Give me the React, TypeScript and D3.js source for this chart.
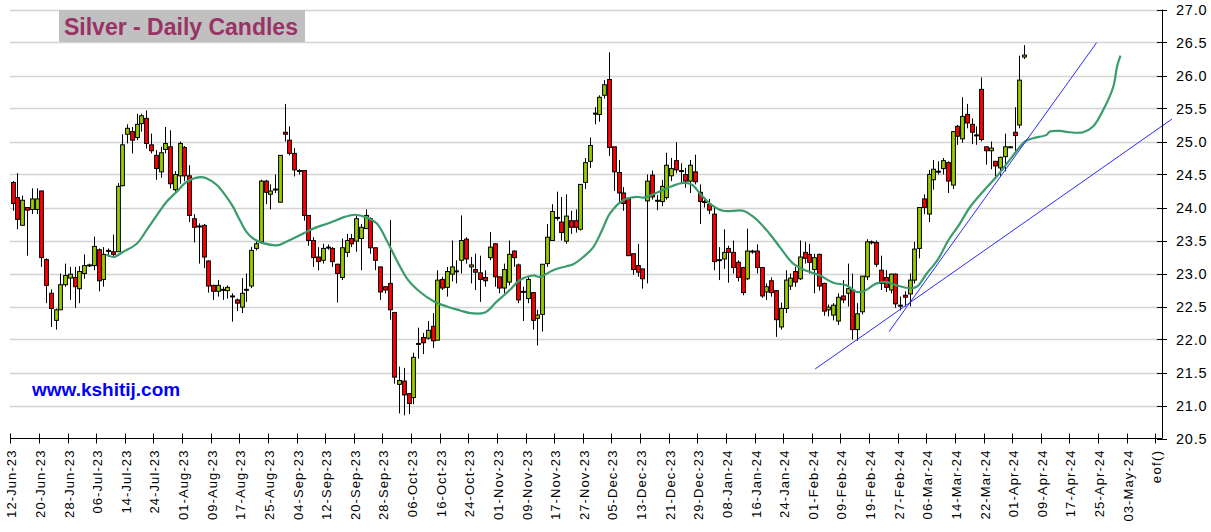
import React from "react";
import * as d3 from "d3";

// OHLC per trading day, index 0 = 12-Jun-23
const candles: [number, number, number, number][] = [
  [24.38, 24.40, 23.95, 24.06], [24.15, 24.52, 23.67, 23.82], [23.73, 24.18, 23.73, 24.11], [24.00, 24.00, 23.27, 23.96],
  [23.97, 24.29, 23.90, 24.13], [23.97, 24.29, 23.90, 24.13], [24.25, 24.26, 23.10, 23.24], [23.21, 23.23, 22.55, 22.82],
  [22.70, 22.76, 22.19, 22.47], [22.29, 22.47, 22.15, 22.45], [22.45, 23.00, 22.45, 22.83], [22.83, 23.15, 22.80, 22.97],
  [22.93, 23.10, 22.60, 22.99], [22.94, 23.10, 22.48, 22.80], [22.77, 23.11, 22.55, 23.03], [23.00, 23.29, 22.92, 23.12],
  [23.12, 23.15, 23.10, 23.13], [23.12, 23.56, 23.05, 23.41], [23.36, 23.38, 22.73, 22.89], [22.91, 23.40, 22.80, 23.29],
  [23.35, 23.38, 23.25, 23.34], [23.33, 23.59, 23.25, 23.29], [23.33, 24.37, 23.33, 24.32], [24.33, 25.11, 24.32, 24.95],
  [25.11, 25.26, 24.97, 25.20], [25.15, 25.22, 24.82, 25.02], [25.06, 25.42, 25.02, 25.26], [25.27, 25.42, 25.15, 25.39],
  [25.35, 25.47, 24.89, 24.97], [24.95, 25.12, 24.82, 24.86], [24.79, 24.87, 24.42, 24.59], [24.54, 24.92, 24.45, 24.83],
  [24.88, 25.22, 24.82, 24.97], [24.92, 25.17, 24.29, 24.36], [24.27, 24.55, 24.24, 24.50], [24.48, 25.00, 24.36, 24.97],
  [24.91, 24.93, 24.40, 24.48], [24.48, 24.64, 23.78, 23.88], [23.83, 23.90, 23.47, 23.70], [23.72, 23.76, 23.15, 23.71],
  [23.73, 23.75, 23.08, 23.25], [23.19, 23.20, 22.71, 22.81], [22.82, 22.83, 22.60, 22.73], [22.73, 22.90, 22.65, 22.82],
  [22.75, 22.80, 22.60, 22.76], [22.74, 22.82, 22.62, 22.79], [22.66, 22.70, 22.27, 22.66], [22.60, 22.62, 22.43, 22.55],
  [22.49, 22.93, 22.40, 22.70], [22.75, 23.00, 22.57, 22.76], [22.81, 23.40, 22.78, 23.35], [23.38, 23.50, 23.35, 23.45],
  [23.48, 24.42, 23.45, 24.40], [24.40, 24.42, 24.05, 24.23], [24.20, 24.35, 23.97, 24.25], [24.27, 24.50, 24.22, 24.28],
  [24.08, 24.79, 24.08, 24.79], [25.14, 25.57, 25.00, 25.11], [25.02, 25.23, 24.79, 24.82], [24.82, 24.90, 24.47, 24.57],
  [24.56, 24.58, 24.50, 24.56], [24.56, 24.56, 23.80, 23.88], [23.88, 23.88, 23.42, 23.50], [23.50, 23.55, 23.10, 23.24],
  [23.25, 23.40, 23.05, 23.18], [23.20, 23.45, 23.15, 23.38], [23.40, 23.44, 23.36, 23.40], [23.38, 23.40, 23.10, 23.18],
  [23.14, 23.15, 22.56, 23.00], [22.94, 23.53, 22.90, 23.39], [23.32, 23.60, 23.25, 23.50], [23.53, 23.60, 23.40, 23.45],
  [23.49, 23.87, 23.33, 23.83], [23.53, 23.75, 23.05, 23.70], [23.68, 23.97, 23.68, 23.88], [23.83, 23.85, 23.30, 23.39],
  [23.39, 23.39, 23.05, 23.20], [23.10, 23.10, 22.60, 22.72], [22.80, 22.80, 22.70, 22.75], [22.85, 23.81, 22.30, 22.45],
  [22.41, 22.41, 21.33, 21.43], [21.32, 21.59, 20.88, 21.38], [21.37, 21.57, 20.85, 21.16], [21.18, 21.18, 20.87, 21.03],
  [21.12, 21.80, 21.02, 21.73], [21.93, 22.18, 21.71, 21.94], [22.03, 22.10, 21.78, 21.95], [22.02, 22.28, 22.00, 22.14],
  [22.20, 22.40, 21.87, 21.98], [21.99, 23.05, 21.99, 22.90], [22.91, 22.95, 22.75, 22.78], [22.79, 23.10, 22.65, 23.03],
  [22.99, 23.50, 22.88, 23.10], [23.03, 23.20, 22.85, 23.04], [23.20, 23.88, 23.00, 23.50], [23.52, 23.55, 23.15, 23.22],
  [23.10, 23.25, 22.85, 23.13], [23.06, 23.30, 22.75, 23.02], [23.01, 23.27, 22.57, 22.91], [22.94, 23.05, 22.80, 22.89],
  [23.24, 23.63, 23.20, 23.40], [23.45, 23.46, 22.80, 22.95], [22.95, 22.95, 22.70, 22.78], [22.78, 23.15, 22.70, 23.06],
  [22.87, 23.50, 22.82, 23.29], [23.34, 23.35, 23.10, 23.24], [23.13, 23.15, 22.55, 22.60], [22.73, 22.80, 22.28, 22.72],
  [22.62, 22.95, 22.55, 22.91], [22.71, 22.72, 22.15, 22.29], [22.32, 22.45, 21.91, 22.37], [22.38, 23.14, 22.12, 23.14],
  [23.15, 23.75, 23.10, 23.55], [23.50, 24.05, 23.50, 23.94], [23.84, 24.24, 23.80, 23.85], [23.78, 24.16, 23.50, 23.62],
  [23.49, 24.20, 23.45, 23.87], [23.80, 23.95, 23.60, 23.70], [23.80, 23.97, 23.62, 23.70], [23.67, 24.35, 23.65, 24.35],
  [24.38, 24.75, 24.28, 24.68], [24.70, 25.06, 24.60, 24.94], [25.43, 25.52, 25.26, 25.42], [25.41, 25.70, 25.30, 25.67],
  [25.70, 25.93, 25.65, 25.86], [25.94, 26.35, 24.78, 24.91], [24.92, 24.92, 24.25, 24.54], [24.53, 24.72, 24.06, 24.22],
  [24.22, 24.31, 23.95, 24.06], [24.14, 24.14, 23.27, 23.27], [23.30, 23.30, 22.98, 23.06], [23.12, 23.45, 22.95, 23.02],
  [23.07, 23.07, 22.77, 22.92], [24.10, 24.50, 22.85, 24.40], [24.49, 24.56, 24.12, 24.16], [24.11, 24.19, 23.96, 24.10],
  [24.09, 24.42, 24.02, 24.32], [24.15, 24.83, 24.12, 24.64], [24.48, 24.75, 24.40, 24.59], [24.71, 24.99, 24.52, 24.57],
  [24.56, 24.67, 24.37, 24.55], [24.50, 24.60, 24.30, 24.40], [24.40, 24.72, 24.22, 24.64], [24.54, 24.80, 24.35, 24.39],
  [24.23, 24.35, 23.75, 24.09], [24.09, 24.15, 24.00, 24.08], [24.05, 24.13, 23.90, 23.96], [23.90, 24.00, 23.05, 23.18],
  [23.20, 23.40, 22.90, 23.21], [23.22, 23.67, 23.07, 23.32], [23.38, 23.42, 22.86, 23.32], [23.32, 23.50, 23.00, 23.09],
  [23.17, 23.20, 22.88, 22.94], [23.09, 23.10, 22.67, 22.71], [22.92, 23.68, 22.90, 23.34], [23.33, 23.36, 23.30, 23.34],
  [23.34, 23.44, 23.00, 23.09], [23.09, 23.10, 22.63, 22.66], [22.72, 22.85, 22.60, 22.80], [22.89, 22.94, 22.65, 22.71],
  [22.74, 22.75, 22.04, 22.30], [22.19, 22.56, 22.15, 22.47], [22.47, 23.05, 22.40, 22.90], [22.81, 23.00, 22.75, 22.93],
  [23.03, 23.10, 22.80, 22.87], [22.92, 23.50, 22.90, 23.25], [23.32, 23.48, 23.15, 23.23], [23.29, 23.45, 23.00, 23.17],
  [23.06, 23.30, 22.70, 23.24], [23.29, 23.30, 22.74, 22.81], [22.85, 22.86, 22.36, 22.43], [22.45, 22.53, 22.35, 22.49],
  [22.37, 22.55, 22.29, 22.52], [22.28, 22.70, 22.22, 22.64], [22.66, 22.90, 22.55, 22.60], [22.70, 23.15, 22.50, 22.77],
  [22.75, 23.00, 22.00, 22.15], [22.15, 22.55, 21.98, 22.39], [22.42, 22.96, 22.38, 22.96], [22.95, 23.52, 22.90, 23.48],
  [23.48, 23.50, 23.44, 23.47], [23.47, 23.50, 23.10, 23.14], [23.05, 23.27, 22.75, 22.85], [22.94, 23.05, 22.72, 22.79],
  [22.75, 23.00, 22.70, 22.99], [22.99, 23.00, 22.48, 22.54], [22.52, 22.65, 22.44, 22.52], [22.67, 22.73, 22.50, 22.64],
  [22.69, 23.00, 22.50, 22.90], [22.90, 23.48, 22.85, 23.37], [23.38, 24.00, 23.23, 24.00], [24.13, 24.20, 23.90, 24.00],
  [23.90, 24.57, 23.78, 24.50], [24.42, 24.72, 24.27, 24.58], [24.55, 24.70, 24.50, 24.55], [24.59, 24.75, 24.50, 24.71],
  [24.68, 24.70, 24.22, 24.40], [24.34, 25.15, 24.28, 25.15], [25.23, 25.25, 24.95, 25.08], [25.04, 25.67, 24.98, 25.38],
  [25.41, 25.57, 25.20, 25.28], [25.26, 25.35, 24.96, 25.14], [25.10, 25.23, 24.95, 25.10], [25.79, 25.97, 25.00, 25.03],
  [24.92, 24.92, 24.65, 24.86], [24.86, 25.00, 24.58, 24.90], [24.70, 24.70, 24.45, 24.63], [24.60, 24.77, 24.48, 24.76],
  [24.77, 25.12, 24.55, 24.92], [24.92, 24.93, 24.91, 24.92], [25.14, 25.52, 24.85, 25.09], [25.25, 26.30, 25.20, 25.93],
  [26.28, 26.46, 26.25, 26.31],
];

// Moving-average line: [bar index, value]
const maLine: [number, number][] = [
  [19.6, 23.29], [21.1, 23.25], [23.2, 23.33], [26.0, 23.45], [28.1, 23.66], [30.2, 23.88], [32.3, 24.09],
  [34.4, 24.24], [36.5, 24.39], [39.3, 24.46], [40.7, 24.44], [42.8, 24.34], [44.8, 24.16], [46.2, 24.01],
  [47.6, 23.81], [49.0, 23.63], [50.4, 23.53], [52.5, 23.46], [55.7, 23.43], [56.7, 23.46], [58.8, 23.53],
  [61.0, 23.61], [63.0, 23.68], [66.5, 23.77], [69.3, 23.85], [71.7, 23.89], [74.2, 23.85], [76.3, 23.76],
  [78.4, 23.5], [80.5, 23.2], [82.9, 22.9], [85.4, 22.72], [88.2, 22.58], [91.0, 22.5], [93.8, 22.44],
  [95.9, 22.40], [99.0, 22.41], [101.4, 22.57], [104.2, 22.75], [106.3, 22.9], [109.1, 22.97], [110.5, 22.95],
  [113.3, 23.05], [116.1, 23.11], [117.5, 23.14], [119.6, 23.25], [121.7, 23.4], [123.5, 23.65], [125.2, 23.91],
  [128.0, 24.11], [130.8, 24.16], [132.2, 24.15], [134.3, 24.2], [137.1, 24.29], [140.2, 24.37], [142.3, 24.35],
  [144.1, 24.21], [146.1, 24.06], [148.9, 23.95], [153.1, 23.95], [155.2, 23.86], [158.0, 23.66], [160.8, 23.40],
  [163.6, 23.15], [166.4, 23.04], [169.2, 22.97], [172.0, 22.86], [174.8, 22.82], [176.9, 22.72], [178.3, 22.73],
  [181.1, 22.85], [183.2, 22.87], [185.3, 22.82], [187.7, 22.78], [189.5, 22.80], [191.6, 23.0], [194.0, 23.22],
  [196.1, 23.5], [198.4, 23.74], [200.6, 24.0], [203.5, 24.25], [206.6, 24.5], [209.4, 24.76], [212.2, 25.0],
  [213.9, 25.05], [216.7, 25.1], [217.4, 25.15], [219.5, 25.16], [221.6, 25.14], [224.4, 25.14], [226.5, 25.23],
  [228.6, 25.48], [230.7, 25.83], [231.5, 26.14], [232.2, 26.3],
];

// Trendlines: [[index, value], [index, value]]
const trendLines: [number, number][][] = [
  [[168.2, 21.553], [243.0, 25.34]],
  [[183.7, 22.12], [227.2, 26.497]],
];

const dateLabels: string[] = [
  "12-Jun-23", "20-Jun-23", "28-Jun-23", "06-Jul-23", "14-Jul-23", "24-Jul-23", "01-Aug-23", "09-Aug-23",
  "17-Aug-23", "25-Aug-23", "04-Sep-23", "12-Sep-23", "20-Sep-23", "28-Sep-23", "06-Oct-23", "16-Oct-23",
  "24-Oct-23", "01-Nov-23", "09-Nov-23", "17-Nov-23", "27-Nov-23", "05-Dec-23", "13-Dec-23", "21-Dec-23",
  "29-Dec-23", "08-Jan-24", "16-Jan-24", "24-Jan-24", "01-Feb-24", "09-Feb-24", "19-Feb-24", "27-Feb-24",
  "06-Mar-24", "14-Mar-24", "22-Mar-24", "01-Apr-24", "09-Apr-24", "17-Apr-24", "25-Apr-24", "03-May-24", "eof()",
];

const yTicks: number[] = [20.5, 21, 21.5, 22, 22.5, 23, 23.5, 24, 24.5, 25, 25.5, 26, 26.5, 27];

const W = 1211;
const H = 532;

export default function App() {
  const x = d3.scaleLinear().domain([0, 240]).range([10.3, 1155.3]);
  const y = d3.scaleLinear().domain([20.5, 27]).range([438.5, 9.5]);
  const axisX = 1162;
  const axisY = y(20.5);
  const step = x(1) - x(0);
  const bw = step * 0.8;

  const maPath = d3
    .line<[number, number]>()
    .x((d) => x(d[0] + 0.5))
    .y((d) => y(d[1]))
    .curve(d3.curveCatmullRom)(maLine);

  const font = "Arial, 'Liberation Sans', Helvetica, sans-serif";

  return (
    <svg width={W} height={H} style={{ position: "absolute", left: 0, top: 0, background: "#fff" }} fontFamily={font}>
      <rect x={0} y={0} width={W} height={H} fill="#fff" />
      {/* grid */}
      {yTicks.slice(1).map((t) => (
        <line key={"g" + t} x1={10} x2={axisX} y1={Math.round(y(t)) + 0.5} y2={Math.round(y(t)) + 0.5} stroke="#d3d3d3" strokeWidth={1.5} />
      ))}
      {/* candles */}
      {candles.map(([o, h, l, c], i) => {
        const cx = Math.round(x(i + 0.5)) + 0.5;
        const up = c >= o;
        const top = y(Math.max(o, c));
        const bot = y(Math.min(o, c));
        return (
          <g key={"c" + i}>
            <line x1={cx} x2={cx} y1={y(h)} y2={y(l)} stroke="#000" strokeWidth={1} />
            <rect
              x={cx - bw / 2}
              y={top}
              width={bw}
              height={Math.max(1, bot - top)}
              fill={up ? "#99cc00" : "#ff0000"}
              stroke="#000"
              strokeWidth={1}
            />
          </g>
        );
      })}
      {/* moving average */}
      <path d={maPath || ""} fill="none" stroke="#3a9b6c" strokeWidth={2.2} />
      {/* trendlines */}
      {trendLines.map((ln, i) => (
        <line key={"t" + i} x1={x(ln[0][0] + 0.5)} y1={y(ln[0][1])} x2={x(ln[1][0] + 0.5)} y2={y(ln[1][1])} stroke="#2b2bff" strokeWidth={1} />
      ))}
      {/* x axis */}
      <line x1={10} x2={axisX} y1={axisY} y2={axisY} stroke="#000" strokeWidth={1} />
      {dateLabels.map((lab, j) => {
        const tx = Math.round(x(j * 6)) + 0.5;
        return (
          <g key={"xl" + j}>
            <line x1={tx} x2={tx} y1={axisY - 5} y2={axisY + 5} stroke="#000" strokeWidth={1} />
            <text
              transform={`translate(${tx + 5},${axisY + 11}) rotate(-90)`}
              textAnchor="end"
              fontSize={13}
              letterSpacing={lab === "eof()" ? 1.4 : 1.1}
              fill="#000"
            >
              {lab}
            </text>
          </g>
        );
      })}
      {/* y axis */}
      <line x1={axisX + 0.5} x2={axisX + 0.5} y1={y(27)} y2={axisY} stroke="#000" strokeWidth={1} />
      {yTicks.map((t) => (
        <g key={"yt" + t}>
          <line x1={axisX - 5} x2={axisX + 5} y1={Math.round(y(t)) + 0.5} y2={Math.round(y(t)) + 0.5} stroke="#000" strokeWidth={1} />
          <text x={1176} y={y(t) + 5.5} fontSize={14.5} letterSpacing={0.8} fill="#000">
            {t.toFixed(1)}
          </text>
        </g>
      ))}
      {/* title */}
      <rect x={59} y={10} width={246} height={32} fill="#c0c0c0" />
      <text x={64} y={34.5} fontSize={23} fontWeight="bold" fill="#993366">
        Silver - Daily Candles
      </text>
      <text x={32} y={396} fontSize={19} fontWeight="bold" fill="#0000ff">
        www.kshitij.com
      </text>
    </svg>
  );
}
